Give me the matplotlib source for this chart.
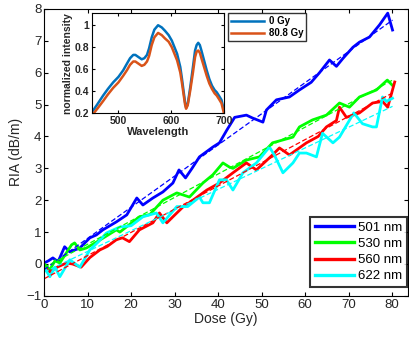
import numpy as np
import matplotlib
matplotlib.use('Agg')
import matplotlib.pyplot as plt

plt.rcParams['font.family'] = ['Liberation Sans', 'DejaVu Sans']

# RIA vs dose
dose_501 = [0, 1, 2, 3.2, 4.7, 5.9, 8.2, 10.5, 12, 13.5, 16.6, 19, 21.3, 22.7, 25, 27.3, 29.6, 31,
            32.5, 34, 35.7, 38.8, 40.3, 42, 43.8, 46.5, 47.9, 50.3, 51.1, 53.4, 56.4, 58.7, 61.4,
            63.3, 65.6, 67.2, 68.7, 71, 72.5, 74.8, 77.1, 79, 80.1]
ria_501 = [0.03, 0.1, 0.19, 0.07, 0.54, 0.38, 0.5, 0.82, 0.91, 1.07, 1.32, 1.54, 2.07, 1.85, 2.07,
           2.26, 2.54, 2.95, 2.7, 3.0, 3.36, 3.67, 3.8, 4.2, 4.6, 4.67, 4.58, 4.45, 4.83, 5.15, 5.24,
           5.46, 5.7, 6.0, 6.4, 6.2, 6.45, 6.8, 6.96, 7.12, 7.5, 7.87, 7.34]

dose_530 = [0, 1.3, 2.5, 3.6, 6.3, 7, 8.2, 9.7, 12.8, 16.6, 17.4, 21.9, 24.3, 27.3, 30.5, 33.4,
            36.5, 38.8, 41.1, 42.6, 43.4, 46.5, 49.5, 52.5, 57.2, 58.7, 61.7, 64.9, 67.9, 70.2,
            72.5, 76.4, 78.9, 80.1]
ria_530 = [0, -0.18, 0.1, 0.03, 0.6, 0.66, 0.44, 0.5, 0.75, 1.07, 1.0, 1.48, 1.55, 2.0, 2.23, 2.1,
           2.54, 2.8, 3.17, 3.04, 3.0, 3.26, 3.36, 3.8, 3.98, 4.3, 4.52, 4.67, 5.05, 4.92, 5.24,
           5.46, 5.77, 5.6]

dose_560 = [0, 1.3, 3, 5.1, 6.5, 8.5, 10.5, 12.8, 14.5, 16.6, 18, 19.6, 21.9, 25, 26.5, 28.2,
            29.6, 32, 34.2, 37.4, 40.3, 43.4, 46.5, 48.8, 52.5, 54.1, 56.4, 60.3, 63, 64.9, 67.2,
            67.9, 69.5, 72.5, 75.5, 77.8, 79, 80.6]
ria_560 = [-0.1, -0.25, -0.1, 0.03, 0.0, -0.1, 0.2, 0.44, 0.55, 0.76, 0.82, 0.7, 1.07, 1.29, 1.6,
           1.29, 1.48, 1.8, 2.0, 2.32, 2.54, 2.86, 3.17, 2.95, 3.42, 3.64, 3.42, 3.8, 4.0, 4.3, 4.5,
           4.92, 4.6, 4.74, 5.05, 5.1, 4.92, 5.71]

dose_622 = [0, 1.3, 2.5, 3.6, 5.9, 8.2, 10.5, 12.5, 14.3, 17.4, 20, 22.7, 25.8, 27.3, 30.5, 33,
            35.7, 36.5, 38, 40.3, 41.9, 43.4, 45.7, 48.8, 51.8, 53, 54.9, 57.2, 58.7, 60.3, 62.6,
            64, 66.4, 67.9, 71.2, 73.2, 75.5, 76.4, 77.8, 78.7, 80.1]
ria_622 = [-0.1, -0.4, -0.1, -0.4, 0.13, -0.1, 0.44, 0.7, 0.97, 1.16, 1.2, 1.48, 1.6, 1.29, 1.8,
           1.8, 2.1, 1.92, 1.92, 2.64, 2.64, 2.32, 2.86, 3.17, 3.67, 3.4, 2.86, 3.17, 3.48, 3.48,
           3.36, 4.1, 3.8, 3.98, 4.74, 4.4, 4.3, 4.3, 5.24, 5.1, 5.2]

# inset spectra
wavelength = [450, 460, 471, 480, 490, 500, 509, 516, 522, 528, 532, 538, 544, 549, 554, 558, 563,
              568, 575, 582, 588, 595, 601, 606, 611, 617, 620, 623, 626, 628, 631, 636, 641, 645,
              648, 651, 654, 657, 662, 667, 672, 677, 682, 686, 690, 695, 700]
spec_0gy = [0.21, 0.28, 0.36, 0.42, 0.48, 0.53, 0.59, 0.65, 0.70, 0.73, 0.73, 0.71, 0.69, 0.70,
            0.73, 0.79, 0.89, 0.96, 1.0, 0.98, 0.95, 0.91, 0.86, 0.80, 0.74, 0.62, 0.52, 0.41,
            0.30, 0.25, 0.28, 0.44, 0.62, 0.77, 0.82, 0.84, 0.82, 0.77, 0.68, 0.59, 0.51, 0.45,
            0.41, 0.39, 0.36, 0.32, 0.22]
spec_808gy = [0.18, 0.24, 0.31, 0.37, 0.43, 0.48, 0.54, 0.59, 0.64, 0.67, 0.67, 0.65, 0.63, 0.64,
              0.67, 0.72, 0.82, 0.89, 0.93, 0.91, 0.88, 0.85, 0.80, 0.74, 0.68, 0.57, 0.48, 0.38,
              0.28, 0.24, 0.27, 0.41, 0.57, 0.71, 0.76, 0.77, 0.75, 0.70, 0.62, 0.54, 0.47, 0.42,
              0.38, 0.36, 0.33, 0.29, 0.19]

series = [(dose_501, ria_501, '#0000ff', '501 nm'),
          (dose_530, ria_530, '#00ff00', '530 nm'),
          (dose_560, ria_560, '#ff0000', '560 nm'),
          (dose_622, ria_622, '#00ffff', '622 nm')]

fig = plt.figure(figsize=(4.09, 3.46), dpi=100)
ax = fig.add_axes([0.108, 0.145, 0.89, 0.829])

for d, r, c, lab in series:
    ax.plot(d, r, color=c, linewidth=2.0, label=lab)
for d, r, c, lab in series:
    k, b = np.polyfit(d, r, 1)
    xf = np.array([0, max(d)])
    ax.plot(xf, k * xf + b, color=c, linewidth=0.9, linestyle=(0, (4, 2)))

ax.set_xlim(0, 83.7)
ax.set_ylim(-1, 8)
ax.set_xticks(range(0, 81, 10))
ax.set_yticks(range(-1, 9))
ax.set_xlabel('Dose (Gy)', fontsize=10, color='#262626', labelpad=1)
ax.set_ylabel('RIA (dB/m)', fontsize=10, color='#262626', labelpad=2)
ax.tick_params(direction='in', top=True, right=True, labelsize=9.5, length=3,
               labelcolor='#262626', pad=2)
for s in ax.spines.values():
    s.set_linewidth(0.8)

leg = ax.legend(loc='lower right', bbox_to_anchor=(0.997, 0.031), fontsize=9.5,
                frameon=True, fancybox=False, edgecolor='black', handlelength=3.0,
                handletextpad=0.3, borderpad=0.35, labelspacing=0.3, borderaxespad=0)
leg.get_frame().set_linewidth(1.5)
for h in leg.get_lines():
    h.set_linewidth(2.4)

# inset
axi = fig.add_axes([0.225, 0.673, 0.323, 0.289])
axi.plot(wavelength, spec_0gy, color='#0072BD', linewidth=1.8, label='0 Gy')
axi.plot(wavelength, spec_808gy, color='#D95319', linewidth=1.8, label='80.8 Gy')
axi.set_xlim(450, 700)
axi.set_ylim(0.2, 1.11)
axi.set_xticks([500, 600, 700])
axi.set_yticks([0.2, 0.4, 0.6, 0.8, 1])
axi.set_yticklabels(['0.2', '0.4', '0.6', '0.8', '1'])
axi.tick_params(direction='in', top=True, right=True, labelsize=7.5, length=2,
                labelcolor='#262626', pad=2)
for lab in axi.get_xticklabels() + axi.get_yticklabels():
    lab.set_fontweight('bold')
axi.set_xlabel('Wavelength', fontsize=8, fontweight='bold', color='#262626', labelpad=1)
axi.set_ylabel('normalized intensity', fontsize=7.5, fontweight='bold', color='#262626',
               labelpad=1)
legi = axi.legend(loc='upper left', bbox_to_anchor=(1.03, 1.0),
                  prop={'weight': 'bold', 'size': 7}, frameon=True, fancybox=False,
                  edgecolor='black', handlelength=3.4, handletextpad=0.5,
                  borderpad=0.3, labelspacing=0.2, borderaxespad=0)
legi.get_frame().set_linewidth(1.0)

fig.savefig('out.png', dpi=100)
